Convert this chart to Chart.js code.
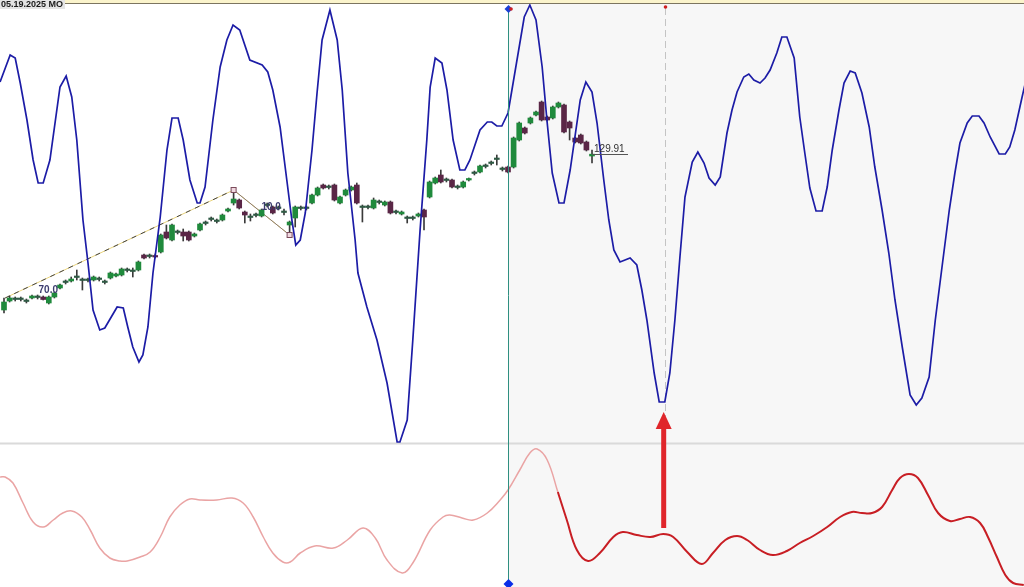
<!DOCTYPE html>
<html>
<head>
<meta charset="utf-8">
<script src="https://cdn.jsdelivr.net/npm/chart.js@4.4.1/dist/chart.umd.min.js"></script>
<style>
  html, body { margin: 0; padding: 0; background: #fff; overflow: hidden; }
  #cycle-chart { display: block; }
</style>
</head>
<body>
<canvas id="cycle-chart" width="1024" height="587"></canvas>
<script>
// monthly candles, bar 0 = first bar on screen
const opens = [
  52, 56.5, 57.5, 57.5, 56.25, 58, 58.5, 58.5, 55.5, 58.5,
  63, 66, 66.5, 68.5, 67, 67, 67, 67.5, 66, 68,
  69, 69.5, 72, 71.5, 72, 79.5, 79, 79, 81, 91,
  87, 91, 91, 91, 89, 92, 95.5, 97.5, 96.5, 97,
  101.5, 105.5, 107, 101, 98.5, 99.5, 99, 104.5, 103.5, 103,
  101, 94.5, 98, 103, 103, 105.5, 109.5, 114.5, 113.5, 114.5,
  105.5, 109.5, 112, 114.5, 103.5, 103.5, 103, 106, 104.5, 106,
  101, 100, 98, 98, 99, 102, 108.5, 115.5, 119.5, 117,
  117, 113.5, 113.5, 117, 120.5, 121, 124, 125.5, 127.5, 122.5,
  123.5, 123.5, 137, 143, 145.5, 149.5, 156, 148.5, 148, 153.5,
  154.5, 146, 138, 139.5, 136, 129
];
const highs = [
  58, 59, 58.5, 58.5, 57.5, 59.5, 59.5, 59, 59, 61,
  65, 67, 68.5, 72, 68, 68, 69, 68.5, 67, 71,
  70.5, 73, 73, 73, 76.5, 80, 80, 80, 90, 94.5,
  95, 92, 92.5, 91.5, 90.5, 95.5, 96.5, 98.5, 97.5, 100,
  103, 112, 107.5, 101.5, 100, 100.5, 102.5, 105.5, 104, 104,
  102.5, 96.5, 104, 104, 104, 110, 113.5, 115, 114.5, 115,
  109, 112.5, 114, 115.5, 104.5, 104.5, 108, 107, 106.5, 106.5,
  102, 101.5, 99, 99, 100.5, 102.5, 116.5, 118.5, 122, 118,
  117.5, 114.5, 116.5, 118, 121.5, 124.5, 125, 126.5, 129.5, 123.5,
  124, 138.5, 146, 143.5, 148.5, 151.5, 156.5, 149, 154, 156,
  155, 146.5, 138.5, 140, 136.5, 132
];
const lows = [
  50.5, 56, 56.5, 56.5, 55.5, 57.5, 57.5, 57, 55, 58,
  62.5, 65, 66, 67, 62, 66, 66.5, 66.5, 65, 67.5,
  68.5, 69, 71, 68.5, 71.5, 77.5, 78, 78, 80.5, 87.5,
  86.5, 90, 86.5, 86.5, 88.5, 91.5, 94.5, 96.5, 95.5, 96.5,
  101, 104.5, 102.5, 95.5, 96.5, 98.5, 98.5, 103.5, 100, 102,
  99.5, 89.5, 93.5, 102, 102, 105, 109, 112.5, 112.5, 106.5,
  105, 109, 111.5, 105, 96, 102.5, 102.5, 105, 104, 100,
  100, 99.5, 95.5, 97, 98.5, 92, 108, 115, 115.5, 116,
  113, 112.5, 113, 116.5, 119.5, 120.5, 123, 124.5, 124.5, 121.5,
  120.5, 123, 136.5, 140, 145, 149, 146.5, 146.5, 147.5, 153,
  140.5, 137, 135.5, 135, 131.5, 125.5
];
const closes = [
  56, 58, 57.25, 57.25, 56.5, 59, 58.25, 57.25, 58.5, 60.5,
  64.5, 65.75, 67.5, 68.25, 66.75, 66.75, 68.5, 67.25, 65.75, 70.5,
  70, 72.5, 71.75, 71.25, 76, 78, 78.75, 78.5, 89.5, 88,
  94.5, 90.75, 89, 87, 90, 95, 95.25, 97.25, 96.25, 99.5,
  102.5, 107.5, 103, 99.5, 98.25, 99.25, 102, 104.25, 100.5, 102.75,
  100.75, 96, 103.5, 102.75, 102.75, 109.5, 113, 113, 113.25, 107,
  108.5, 112, 113.5, 105.5, 103.25, 103.25, 107, 105.75, 106, 100.5,
  100.75, 101, 97.75, 97.75, 100, 98.5, 116, 118, 116, 116.75,
  113.5, 113.25, 116, 117.5, 120.25, 124, 123.75, 125.25, 127.25, 122.25,
  121, 138, 145.5, 140.5, 148, 151, 147, 147, 153.5, 155.5,
  141, 143, 136, 135.5, 132, 129.91
];

// cycle projection (blue), x in bars
const cycleBar = [
  -0.7, 1.1, 2.0, 2.9, 4.1, 5.2, 6.1, 7.0, 8.2, 10.0,
  11.1, 12.1, 13.0, 14.1, 15.0, 15.9, 17.1, 18.0, 20.2, 21.3,
  22.1, 23.0, 24.1, 24.8, 25.7, 26.6, 27.9, 29.1, 30.0, 31.1,
  32.0, 33.2, 34.5, 35.0, 35.9, 37.3, 38.6, 39.8, 40.9, 42.1,
  43.9, 46.1, 47.1, 48.0, 49.3, 50.5, 51.4, 52.1, 52.9, 53.8,
  55.0, 55.9, 56.8, 58.2, 59.5, 60.4, 61.4, 62.7, 63.2, 64.8,
  66.6, 68.4, 70.2, 70.7, 72.0, 73.0, 74.3, 75.5, 76.1, 77.0,
  78.2, 79.1, 80.2, 81.4, 82.3, 83.2, 85.0, 86.3, 87.1, 88.0,
  88.9, 90.0, 90.7, 92.9, 93.9, 95.0, 96.1, 97.0, 97.9, 99.1,
  100.0, 101.1, 102.9, 103.9, 105.0, 105.9, 107.1, 108.0, 108.9, 110.0,
  111.8, 113.0, 113.9, 114.8, 116.1, 117.0, 118.0, 118.9, 119.8, 120.7,
  121.6, 122.9, 123.9, 125.0, 125.9, 127.0, 127.9, 129.1, 130.0, 130.9,
  132.1, 133.0, 133.9, 135.0, 135.9, 136.8, 138.0, 138.9, 139.8, 141.1,
  142.1, 143.0, 143.9, 145.0, 146.1, 147.0, 147.9, 149.1, 150.0, 151.1,
  152.0, 153.2, 154.5, 155.5, 156.8, 158.0, 159.1, 160.4, 161.8, 162.9,
  163.9, 165.2, 166.3, 167.5, 168.8, 169.8, 170.7, 172.0, 172.9, 174.1,
  175.0, 176.1, 177.7, 178.8, 179.6, 180.5, 181.8, 182.5
];
const cycleVal = [
  70.5, 84, 82.5, 70, 51.5, 31.5, 20, 20, 31.5, 68,
  73.5, 63, 41.5, 1.5, -20, -43.5, -53.5, -52.5, -42, -42.5,
  -52, -62, -69.5, -66, -52, -25, 3, 36.5, 52.5, 52.5,
  41.5, 21.5, 10, 10, 18, 51.5, 78, 91.5, 99, 96.5,
  81.5, 79, 75.5, 66.5, 48, 21.5, 1.5, -11, -8.5, 5,
  36.5, 65, 91.5, 106.5, 91.5, 66.5, 25, -8.5, -25, -42,
  -58.5, -80, -109.5, -109.5, -98.5, -58.5, -3.5, 41.5, 68, 82.5,
  80, 66.5, 41.5, 26.5, 26.5, 31.5, 46.5, 50.5, 50.5, 48.5,
  48.5, 55, 66.5, 103, 109, 101.5, 78, 50, 25, 10,
  10, 26.5, 61.5, 70.5, 65.5, 50, 21.5, 1.5, -13.5, -19.5,
  -17.5, -21, -33.5, -48.5, -75, -89.5, -89.5, -75, -48.5, -17,
  13, 30.5, 35.5, 30, 22.5, 19, 23, 45, 56.5, 65.5,
  73, 74.5, 71.5, 70, 72.5, 76.5, 85, 93, 93, 82.5,
  53, 35, 17.5, 6, 6, 18, 36.5, 56.5, 70, 76,
  75, 65, 48, 28, 6.5, -15, -38.5, -62, -86, -91,
  -87.5, -77, -48.5, -22, 6.5, 25, 40, 50, 53.5, 53.5,
  50, 43, 34.5, 34.5, 38, 46.5, 63, 71.5
];

// lower oscillator
const oscBar = [
  -0.7, 0.2, 1.6, 3.4, 5.2, 7.0, 8.8, 10.5, 12.1, 13.9,
  15.4, 17.1, 18.9, 20.7, 22.0, 24.3, 26.1, 27.9, 29.6, 31.4,
  33.2, 35.0, 38.0, 40.7, 42.7, 44.5, 46.3, 48.0, 49.8, 51.1,
  52.9, 55.5, 58.8, 61.3, 64.1, 66.3, 68.4, 71.1, 73.0, 76.1,
  78.4, 79.6, 81.8, 83.8, 86.3, 88.6, 90.0, 92.1, 93.9, 95.2,
  97.0, 98.9, 100.5, 102.3, 104.3, 106.4, 108.8, 110.5, 113.0, 115.4,
  117.7, 119.5, 122.0, 124.6, 126.6, 128.8, 130.9, 132.7, 135.0, 137.3,
  139.8, 142.1, 144.5, 147.0, 149.3, 151.4, 153.2, 155.0, 156.8, 158.6,
  160.0, 161.6, 163.2, 165.0, 166.8, 168.9, 170.7, 172.5, 174.3, 175.7,
  177.3, 178.8, 180.2, 182.1
];
const oscVal = [
  17.5, 17.5, 14.5, 4.5, -5, -7.5, -4, -0.5, 0.5, -2.5,
  -9, -18, -23, -24.5, -24.5, -22.5, -20, -12.5, -2.5, 3.5,
  6.5, 6, 6, 7, 4.5, -2.5, -12.5, -20.5, -25, -25,
  -20.5, -17, -18, -14, -8, -13, -24, -30.5, -25.5, -9,
  -2.5, -1.5, -3, -4, -0.5, 6, 11, 21, 29.5, 31.5,
  26, 10, -4, -19, -24.5, -20.5, -12.5, -10, -11.5, -12.5,
  -11, -12.5, -20, -26, -20.5, -14, -12, -14, -19, -21.5,
  -19.5, -15.5, -12, -7.5, -2.5, 0, -0.5, -0.5, 2.5, 11,
  17, 19, 17, 8.5, -0.5, -4.5, -3.5, -2.5, -5.5, -12.5,
  -22.5, -31.5, -35.5, -36.5
];

const todayBar = 90;        // vertical marker, start of shaded future
const oscSplitBar = 98.9;   // oscillator turns red from here
const cycleLowBar = 118;    // dashed marker at projected low
const arrowBar = 117.8;
const lastPrice = 129.91;
const dateLabel = "05.19.2025 MO";
// swing drawing: bar, price, label
const swingBars = [0.2, 41, 51];
const swingPrices = [58, 112, 89.5];
const swingLabels = [{bar: 7.9, price: 62, text: "70.0"}, {bar: 47.7, price: 103.5, text: "10.0"}];

const UP = "#1f8a3c", DOWN = "#5a2646", DOJI = "#2f5a44";
function candleColor(i) {
  const d = closes[i] - opens[i];
  if (Math.abs(d) < 0.3) return DOJI;
  return d > 0 ? UP : DOWN;
}

const bars = opens.map((o, i) => i);

const overlay = {
  id: "overlay",
  beforeDatasetsDraw(chart) {
    const {ctx, chartArea: a, scales} = chart;
    const xNow = scales.x.getPixelForValue(todayBar);
    ctx.save();
    ctx.fillStyle = "#f7f7f7";
    ctx.fillRect(xNow, a.top, a.right - xNow, a.bottom - a.top);
    // panel divider
    const yDiv = Math.round(a.top + a.height * 0.755) + 0.5;
    ctx.strokeStyle = "#dadada";
    ctx.lineWidth = 2;
    ctx.beginPath(); ctx.moveTo(a.left, yDiv); ctx.lineTo(a.right, yDiv); ctx.stroke();
    // dashed projected-low marker
    const xLow = Math.round(scales.x.getPixelForValue(cycleLowBar)) + 0.5;
    ctx.strokeStyle = "#c4c4c4";
    ctx.lineWidth = 1;
    ctx.setLineDash([7, 4]);
    ctx.beginPath(); ctx.moveTo(xLow, a.top + 8); ctx.lineTo(xLow, yDiv - 2); ctx.stroke();
    ctx.setLineDash([]);
    // swing drawing (dashed yellow/dark)
    const pts = swingBars.map((b, i) => [scales.x.getPixelForValue(b), scales.yPrice.getPixelForValue(swingPrices[i])]);
    ctx.lineWidth = 1;
    ctx.strokeStyle = "#e8d27a";
    ctx.beginPath(); ctx.moveTo(pts[0][0], pts[0][1]);
    pts.slice(1).forEach(p => ctx.lineTo(p[0], p[1]));
    ctx.stroke();
    ctx.strokeStyle = "#444";
    ctx.setLineDash([5, 5]);
    ctx.beginPath(); ctx.moveTo(pts[0][0], pts[0][1]); ctx.lineTo(pts[1][0], pts[1][1]); ctx.stroke();
    ctx.setLineDash([]);
    ctx.strokeStyle = "#8a7a70";
    ctx.beginPath(); ctx.moveTo(pts[1][0], pts[1][1]); ctx.lineTo(pts[2][0], pts[2][1]); ctx.stroke();
    ctx.restore();
  },
  afterDatasetsDraw(chart) {
    const {ctx, chartArea: a, scales} = chart;
    const x = scales.x, yP = scales.yPrice;
    ctx.save();
    // swing markers and labels
    swingBars.slice(1).forEach((b, i) => {
      const px = x.getPixelForValue(b), py = yP.getPixelForValue(swingPrices[i + 1]);
      ctx.fillStyle = "#f0d8e0";
      ctx.strokeStyle = "#7a4a5a";
      ctx.lineWidth = 1;
      ctx.fillRect(px - 2.5, py - 2.5, 5, 5);
      ctx.strokeRect(px - 2.5, py - 2.5, 5, 5);
    });
    ctx.font = "bold 10px 'Liberation Sans', Arial, sans-serif";
    ctx.fillStyle = "#3c3c6e";
    ctx.textAlign = "center";
    ctx.textBaseline = "middle";
    swingLabels.forEach(l => ctx.fillText(l.text, x.getPixelForValue(l.bar), yP.getPixelForValue(l.price)));
    // last price tag
    const yLast = Math.round(yP.getPixelForValue(lastPrice)) + 0.5;
    const xLast = x.getPixelForValue(closes.length - 1);
    ctx.strokeStyle = "#555";
    ctx.lineWidth = 1;
    ctx.beginPath(); ctx.moveTo(xLast, yLast); ctx.lineTo(xLast + 36, yLast); ctx.stroke();
    ctx.font = "10px 'Liberation Sans', Arial, sans-serif";
    ctx.fillStyle = "#333";
    ctx.textAlign = "left";
    ctx.textBaseline = "bottom";
    ctx.fillText(lastPrice.toFixed(2), xLast + 2, yLast);
    // today vertical line with diamonds
    const xNow = Math.round(x.getPixelForValue(todayBar)) + 0.5;
    ctx.strokeStyle = "#2f8f80";
    ctx.beginPath(); ctx.moveTo(xNow, a.top + 8); ctx.lineTo(xNow, a.bottom - 4); ctx.stroke();
    const diamond = (cx, cy, r, col) => {
      ctx.fillStyle = col;
      ctx.beginPath();
      ctx.moveTo(cx, cy - r); ctx.lineTo(cx + r, cy); ctx.lineTo(cx, cy + r); ctx.lineTo(cx - r, cy);
      ctx.closePath(); ctx.fill();
    };
    diamond(xNow, a.top + 9, 4, "#1b3fd6");
    ctx.fillStyle = "#d02020";
    ctx.beginPath(); ctx.arc(xNow + 2.5, a.top + 9, 1.8, 0, Math.PI * 2); ctx.fill();
    diamond(xNow, a.bottom - 3, 5, "#0a2ee8");
    const xLow = Math.round(x.getPixelForValue(cycleLowBar)) + 0.5;
    ctx.fillStyle = "#d02020";
    ctx.beginPath(); ctx.arc(xLow, a.top + 7, 1.8, 0, Math.PI * 2); ctx.fill();
    // red arrow from oscillator up to the projected low
    const xa = x.getPixelForValue(arrowBar);
    const yTail = scales.yOsc.getPixelForValue(-8);
    const yTip = scales.yCycle.getPixelForValue(-94.5);
    ctx.strokeStyle = "#e0262b";
    ctx.fillStyle = "#e0262b";
    ctx.lineWidth = 5;
    ctx.beginPath(); ctx.moveTo(xa, yTail); ctx.lineTo(xa, yTip + 14); ctx.stroke();
    ctx.beginPath();
    ctx.moveTo(xa, yTip); ctx.lineTo(xa + 8, yTip + 17); ctx.lineTo(xa - 8, yTip + 17);
    ctx.closePath(); ctx.fill();
    // top strip and date label
    ctx.fillStyle = "#fbf4cc";
    ctx.fillRect(a.left, a.top, a.right - a.left, 3);
    ctx.strokeStyle = "#7c7560";
    ctx.lineWidth = 1;
    ctx.beginPath(); ctx.moveTo(a.left, a.top + 3.5); ctx.lineTo(a.right, a.top + 3.5); ctx.stroke();
    ctx.font = "bold 9px 'Liberation Sans', Arial, sans-serif";
    const w = ctx.measureText(dateLabel).width + 3;
    ctx.fillStyle = "#e4e4e4";
    ctx.fillRect(a.left, a.top, w, 9);
    ctx.fillStyle = "#1a1a1a";
    ctx.textAlign = "left";
    ctx.textBaseline = "top";
    ctx.fillText(dateLabel, a.left + 1, a.top + 0);
    ctx.restore();
  }
};

new Chart("cycle-chart", {
  type: "bar",
  data: {
    datasets: [
      {
        type: "line",
        label: "Cycle",
        data: cycleBar.map((b, i) => ({x: b, y: cycleVal[i]})),
        yAxisID: "yCycle",
        borderColor: "#1c1ca6",
        borderWidth: 1.7,
        pointRadius: 0,
        tension: 0,
        order: 1
      },
      {
        type: "line",
        label: "Oscillator",
        data: oscBar.map((b, i) => ({x: b, y: oscVal[i]})),
        yAxisID: "yOsc",
        borderWidth: 1.6,
        pointRadius: 0,
        tension: 0.4,
        segment: {
          borderColor: c => c.p0.parsed.x >= oscSplitBar ? "#c81e24" : "#eaa4a4",
          borderWidth: c => c.p0.parsed.x >= oscSplitBar ? 2 : 1.5
        },
        order: 1
      },
      {
        label: "Bodies",
        data: bars.map(i => ({x: i, y: [opens[i], closes[i]]})),
        yAxisID: "yPrice",
        backgroundColor: c => candleColor(c.dataIndex),
        barThickness: 5,
        minBarLength: 1.5,
        grouped: false,
        order: 2
      },
      {
        label: "Wicks",
        data: bars.map(i => ({x: i, y: [lows[i], highs[i]]})),
        yAxisID: "yPrice",
        backgroundColor: "#3a3a3a",
        barThickness: 1,
        grouped: false,
        order: 3
      }
    ]
  },
  options: {
    responsive: false,
    animation: false,
    events: [],
    layout: { padding: 0 },
    plugins: {
      legend: { display: false },
      tooltip: { enabled: false }
    },
    scales: {
      x: { type: "linear", min: -0.714, max: 182.14, offset: false, display: false },
      yPrice: { type: "linear", min: -86.5, max: 207, display: false },
      yCycle: { type: "linear", min: -182, max: 111.5, display: false },
      yOsc: { type: "linear", min: -37.5, max: 256, display: false }
    }
  },
  plugins: [overlay]
});
</script>
</body>
</html>
